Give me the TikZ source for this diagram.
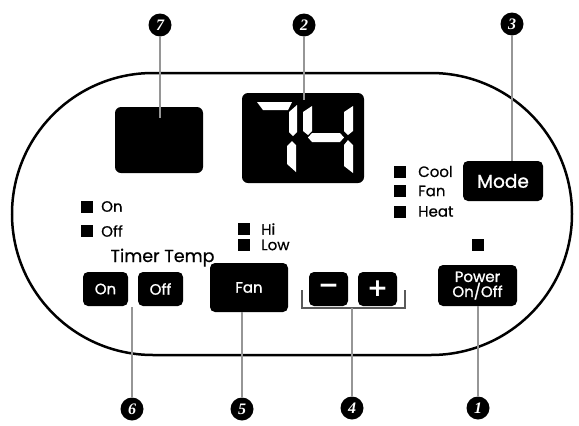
\documentclass[tikz,border=0pt]{standalone}
\usepackage{fontspec}
\setmainfont{Poppins}
\newfontfamily\medfont{Poppins}[FakeBold=0.6]
\newfontfamily\semifont{Poppins}[FakeBold=1.2]
\newfontfamily\numfont{Liberation Serif}
\newfontfamily\symfont{DejaVu Sans}
\definecolor{leadgray}{RGB}{150,150,150}
\definecolor{brackgray}{RGB}{90,90,90}
\tikzset{
  panel/.style={fill=black, rounded corners=6pt, inner sep=0pt},
  btn/.style={fill=black, rounded corners=5pt, inner sep=0pt, text=white, font=\semifont\fontsize{15}{15}\selectfont},
  led/.style={fill=black, minimum size=12pt, inner sep=0pt},
  lbl/.style={anchor=west, inner sep=0pt, font=\medfont\fontsize{15}{16}\selectfont},
  badge/.style={circle, fill=black, minimum size=23pt, inner sep=0pt, text=white, font=\numfont\bfseries\itshape\fontsize{16}{16}\selectfont},
  lead/.style={draw=leadgray, line width=1.5pt},
  seg/.style={fill=white},
}
\begin{document}
\begin{tikzpicture}[x=1pt,y=1pt,yscale=-1,xscale=1]
  \useasboundingbox (0,0) rectangle (579,426);
  % outline of the panel
  \draw[line width=2.5pt] (155,73) -- (431,73) arc (-90:90:141) -- (153,355) arc (90:270:141) -- cycle;
  % displays
  \node[panel, minimum width=88pt, minimum height=66pt] (timerbox) at (159,140) {};
  \node[panel, minimum width=122pt, minimum height=90pt] (display) at (303,138) {};
  \fill[seg] (257,102) -- (292,102) -- (288,110) -- (263,110) -- cycle;
  \fill[seg] (297,105) -- (297,132) -- (293,136) -- (289,132) -- (289,112) -- cycle;
  \fill[seg] (292,141) -- (296,145) -- (296,172) -- (287,164) -- (287,146) -- cycle;
  \fill[seg] (303,112) -- (312,106) -- (312,131) -- (308,135) -- (303,131) -- cycle;
  \fill[seg] (308,137.5) -- (312,133) -- (340,133) -- (344,137.5) -- (340,142) -- (312,142) -- cycle;
  \fill[seg] (353,106) -- (353,131) -- (348,135) -- (344,131) -- (344,112) -- cycle;
  \fill[seg] (348,140) -- (353,145) -- (353,173) -- (344,166) -- (344,145) -- cycle;
  % indicators
  \node[led] (ledon) at (86.5,206.5) {};
  \node[lbl] (lblon) at (101,206.5) {On};
  \node[led] (ledoff) at (86.5,231) {};
  \node[lbl] (lbloff) at (101,231) {Off};
  \node[led] (ledhi) at (243.5,229) {};
  \node[lbl] (lblhi) at (261,229) {Hi};
  \node[led] (ledlow) at (243.5,245) {};
  \node[lbl] (lbllow) at (261,245) {Low};
  \node[led] (ledcool) at (400,171.5) {};
  \node[lbl] (lblcool) at (418,171.5) {Cool};
  \node[led] (ledfan) at (400,191) {};
  \node[lbl] (lblfan) at (418,191) {Fan};
  \node[led] (ledheat) at (400,211.5) {};
  \node[lbl] (lblheat) at (418,211.5) {Heat};
  \node[led] (ledpower) at (478,244.5) {};
  \node[anchor=base, inner sep=0pt, font=\medfont\fontsize{17.5}{19}\selectfont] (timertemp) at (162.5,262) {Timer Temp};
  % buttons
  \node[btn, minimum width=45pt, minimum height=34pt] (timeron) at (105.5,289) {On};
  \node[btn, minimum width=45pt, minimum height=34pt] (timeroff) at (160.5,289) {Off};
  \node[btn, minimum width=78pt, minimum height=49pt] (fan) at (249,287.5) {Fan};
  \node[btn, minimum width=39pt, minimum height=34pt, font=\symfont\bfseries\fontsize{25}{25}\selectfont] (minus) at (328.5,289) {−};
  \node[btn, minimum width=39pt, minimum height=34pt, font=\symfont\bfseries\fontsize{25}{25}\selectfont] (plus) at (377.5,289) {+};
  \node[btn, minimum width=79pt, minimum height=41pt, align=center, font=\semifont\fontsize{15}{15}\selectfont] (power) at (477.5,285.5) {Power\\On/Off};
  \node[btn, minimum width=80pt, minimum height=40pt, font=\semifont\fontsize{18.5}{19}\selectfont] (mode) at (503,181) {Mode};
  % bracket of the temp buttons
  \draw[brackgray, line width=1.2pt] (302,290) -- (302,308) -- (405,308) -- (405,290);
  \coordinate (brk) at (352,308);
  % callouts
  \node[badge] (n7) at (160,25) {7};
  \node[badge] (n2) at (304,25) {2};
  \node[badge] (n3) at (512,24) {3};
  \node[badge] (n6) at (132,409) {6};
  \node[badge] (n5) at (242,409) {5};
  \node[badge] (n4) at (352,408) {4};
  \node[badge] (n1) at (478,408) {1};
  \coordinate (e7) at (160,118);
  \coordinate (e2) at (304,100);
  \coordinate (e6) at (132,307);
  \draw[lead] (n7) -- (e7);
  \draw[lead] (n2) -- (e2);
  \draw[lead] (n3) -- (n3 |- mode.north);
  \draw[lead] (e6) -- (n6);
  \draw[lead] (n5 |- fan.south) -- (n5);
  \draw[lead] (brk) -- (n4);
  \draw[lead] (n1 |- power.south) -- (n1);
\end{tikzpicture}
\end{document}
